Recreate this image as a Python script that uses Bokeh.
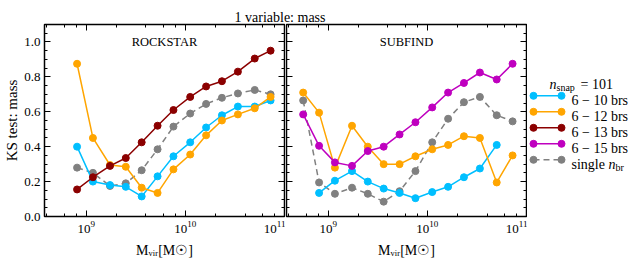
from bokeh.plotting import figure
from bokeh.models import (Range1d, LogAxis, LinearAxis, SingleIntervalTicker,
                          LogTicker, Label, PrintfTickFormatter)
from bokeh.layouts import row, column
from bokeh.embed import file_html
from bokeh.resources import INLINE
from bokeh.core.properties import value

# ---------------- data ----------------
mass = [5.6e8, 8.1e8, 1.17e9, 1.74e9, 2.51e9, 3.63e9, 5.25e9, 7.59e9,
        1.12e10, 1.62e10, 2.34e10, 3.39e10, 5.01e10, 7.24e10]

# ROCKSTAR panel (mass[1:])
rs_6_10 = [0.40, 0.20, 0.18, 0.17, 0.115, 0.23, 0.345, 0.425, 0.51, 0.58, 0.63, 0.63, 0.665]
rs_6_12 = [0.875, 0.45, 0.295, 0.285, 0.165, 0.135, 0.27, 0.355, 0.465, 0.55, 0.585, 0.62, 0.685]
rs_6_13 = [0.155, 0.225, 0.29, 0.335, 0.425, 0.52, 0.61, 0.685, 0.745, 0.775, 0.83, 0.905, 0.95]
rs_single = [0.28, 0.25, 0.175, 0.19, 0.265, 0.385, 0.515, 0.59, 0.645, 0.68, 0.705, 0.725, 0.70]

# SUBFIND panel
sf_6_10 = [0.135, 0.205, 0.26, 0.20, 0.16, 0.135, 0.105, 0.14, 0.17, 0.225, 0.275, 0.41]  # mass[1:13]
sf_6_12 = [0.71, 0.595, 0.28, 0.52, 0.40, 0.30, 0.30, 0.345, 0.385, 0.41, 0.46, 0.45, 0.195, 0.35]
sf_6_15 = [0.585, 0.405, 0.31, 0.29, 0.375, 0.40, 0.47, 0.54, 0.625, 0.71, 0.765, 0.825, 0.785, 0.875]
sf_single = [0.665, 0.195, 0.13, 0.165, 0.13, 0.085, 0.145, 0.26, 0.425, 0.56, 0.655, 0.685, 0.58, 0.545]

series_labels = ["6 \u2212 10 brs", "6 \u2212 12 brs", "6 \u2212 13 brs", "6 \u2212 15 brs"]
y_ticks_interval = 0.2

FONT = "Liberation Serif"
C_10, C_12, C_13, C_15, C_S = "#00bfff", "#ffa500", "#8b0000", "#bf00bf", "#808080"
DASH = "6 4"


def style_axis(ax, labels):
    ax.major_tick_in = 6
    ax.major_tick_out = 0
    ax.minor_tick_in = 3
    ax.minor_tick_out = 0
    ax.axis_line_color = "black"
    ax.major_tick_line_color = "black"
    ax.minor_tick_line_color = "black"
    ax.major_tick_line_width = 1
    ax.minor_tick_line_width = 1
    ax.major_label_text_font = FONT
    ax.major_label_text_color = "black"
    if labels:
        ax.major_label_text_font_size = "13px"
        ax.major_label_standoff = 4
    else:
        ax.major_label_text_font_size = "1px"
        ax.major_label_text_alpha = 0
        ax.major_label_standoff = 0
    ax.axis_label_text_font = FONT
    ax.axis_label_text_font_size = "14px"
    ax.axis_label_text_font_style = "normal"
    ax.axis_label_text_color = "black"


def panel(left_labels, name):
    p = figure(frame_width=240, frame_height=192, x_axis_type="log",
               x_range=Range1d(10 ** 8.58, 1.0001e11), y_range=Range1d(0, 1.1),
               output_backend="svg", toolbar_location=None,
               min_border_top=1, min_border_bottom=36,
               min_border_left=44 if left_labels else 1, min_border_right=1,
               outline_line_color="black", outline_line_width=1.5)
    p.grid.visible = False
    yt = SingleIntervalTicker(interval=y_ticks_interval, num_minor_ticks=4)
    p.yaxis.ticker = yt
    p.yaxis.formatter = PrintfTickFormatter(format="%.1f")
    style_axis(p.yaxis[0], left_labels)
    if left_labels:
        p.yaxis.axis_label = "KS test: mass"
        p.yaxis.axis_label_text_font_size = "15px"
        p.yaxis.axis_label_standoff = 1
        p.yaxis.major_label_standoff = 4
    p.xaxis.ticker = LogTicker()
    style_axis(p.xaxis[0], True)
    p.xaxis.axis_label = "M\u1d65\u1d62\u1d63[M\u2609]"
    p.xaxis.axis_label_standoff = 7
    ra = LinearAxis(ticker=yt)
    style_axis(ra, False)
    p.add_layout(ra, "right")
    ta = LogAxis(ticker=LogTicker())
    style_axis(ta, False)
    p.add_layout(ta, "above")
    p.add_layout(Label(x=10 ** 9.79, y=1.0, text=name, text_align="center",
                       text_baseline="middle", text_font=FONT,
                       text_font_size="12.5px", text_color="black"))
    return p


def series(p, x, y, color, dash="solid"):
    p.line(x, y, line_color=color, line_width=1.5, line_dash=dash)
    p.scatter(x, y, size=7, fill_color=color, line_color=color)


p1 = panel(True, "ROCKSTAR")
series(p1, mass[1:], rs_single, C_S, DASH)
series(p1, mass[1:], rs_6_10, C_10)
series(p1, mass[1:], rs_6_12, C_12)
series(p1, mass[1:], rs_6_13, C_13)

p2 = panel(False, "SUBFIND")
series(p2, mass, sf_single, C_S, DASH)
series(p2, mass[1:13], sf_6_10, C_10)
series(p2, mass, sf_6_12, C_12)
series(p2, mass, sf_6_15, C_15)

# ---------------- legend (local pixel coordinates, y aligned with the panel frames) ----------------
leg = figure(frame_width=112, frame_height=192, x_range=Range1d(0, 112),
             y_range=Range1d(216, 24), min_border_top=1, min_border_bottom=0,
             min_border_left=0, min_border_right=0, outline_line_color=None,
             x_axis_location=None, y_axis_location=None, toolbar_location=None,
             title=None, output_backend="svg")
leg.grid.visible = False
rows_y = [95.3, 111.3, 127.3, 143.3, 159.3]
colors = [C_10, C_12, C_13, C_15, C_S]
dashes = ["solid"] * 4 + [DASH]
for yy, c, d in zip(rows_y, colors, dashes):
    leg.line([6, 34], [yy, yy], line_color=c, line_width=1.5, line_dash=d)
    leg.scatter([6, 34], [yy, yy], size=7, fill_color=c, line_color=c)
for yy, t in zip(rows_y[:4], series_labels):
    leg.text([44], [yy + 5], text=[t], text_font=value(FONT), text_font_size="14px",
             text_baseline="alphabetic", text_color="black")
ys = rows_y[4] + 5
leg.text([44], [ys], text=["single"], text_font=value(FONT), text_font_size="14px",
         text_baseline="alphabetic", text_color="black")
leg.text([81], [ys], text=["n"], text_font=value(FONT), text_font_size="14px",
         text_font_style="italic", text_baseline="alphabetic", text_color="black")
leg.text([88], [ys + 3], text=["br"], text_font=value(FONT), text_font_size="10px",
         text_baseline="alphabetic", text_color="black")
yt_ = 79.3 + 5
leg.text([22], [yt_], text=["n"], text_font=value(FONT), text_font_size="14px",
         text_font_style="italic", text_baseline="alphabetic", text_color="black")
leg.text([29], [yt_ + 3], text=["snap"], text_font=value(FONT), text_font_size="10px",
         text_baseline="alphabetic", text_color="black")
leg.text([53], [yt_], text=["= 101"], text_font=value(FONT), text_font_size="14px",
         text_baseline="alphabetic", text_color="black")

# ---------------- title ----------------
tf = figure(width=622, height=23, x_range=Range1d(0, 622), y_range=Range1d(23, 0),
            min_border=0, outline_line_color=None, x_axis_location=None,
            y_axis_location=None, toolbar_location=None, title=None,
            output_backend="svg")
tf.grid.visible = False
tf.add_layout(Label(x=279.5, y=16.5, text="1 variable: mass", text_font=FONT,
                    text_font_size="14px", text_align="center",
                    text_baseline="alphabetic", text_color="black"))

layout = column(tf, row(p1, p2, leg, spacing=0), spacing=0)
open("out.html", "w").write(file_html(layout, INLINE))
